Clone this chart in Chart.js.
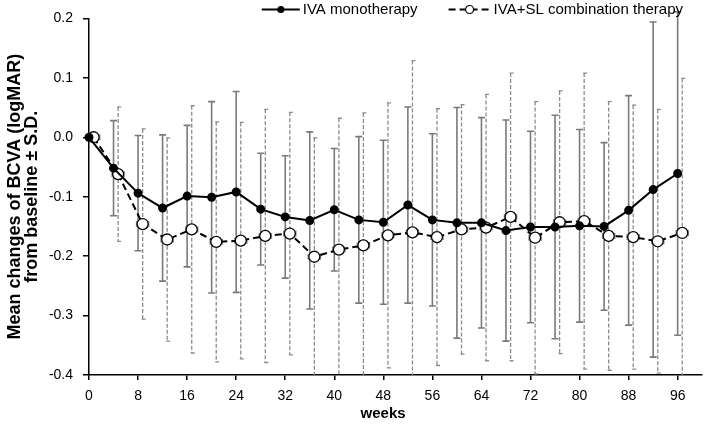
<!DOCTYPE html>
<html>
<head>
<meta charset="utf-8">
<script src="https://cdn.jsdelivr.net/npm/chart.js@4.4.1/dist/chart.umd.min.js"></script>
<style>
  html, body { margin: 0; background: #fff; }
  #wrap { width: 709px; height: 429px; }
</style>
</head>
<body>
<div id="wrap"><canvas id="chart"></canvas></div>
<script>
    // Weeks after baseline
    const weeks = [0, 4, 8, 12, 16, 20, 24, 28, 32, 36, 40, 44, 48, 52, 56, 60, 64, 68, 72, 76, 80, 84, 88, 92, 96];

    // IVA monotherapy: mean change and S.D.
    const monoMean = [0, -0.052, -0.094, -0.119, -0.099, -0.101, -0.092, -0.121, -0.134, -0.140, -0.122, -0.139, -0.143,
      -0.114, -0.139, -0.144, -0.144, -0.157, -0.151, -0.151, -0.149, -0.150, -0.123, -0.088, -0.061];
    const monoSD = [0, 0.080, 0.097, 0.123, 0.119, 0.161, 0.169, 0.094, 0.103, 0.149, 0.103, 0.140, 0.138,
      0.165, 0.145, 0.194, 0.177, 0.186, 0.161, 0.188, 0.162, 0.141, 0.193, 0.282, 0.272];

    // IVA+SL combination therapy: mean change and S.D.
    const comboMean = [0, -0.062, -0.146, -0.172, -0.155, -0.176, -0.174, -0.166, -0.162, -0.201, -0.189, -0.182, -0.165,
      -0.160, -0.168, -0.155, -0.152, -0.134, -0.169, -0.143, -0.141, -0.166, -0.168, -0.175, -0.161];
    const comboSD = [0, 0.113, 0.160, 0.171, 0.208, 0.202, 0.199, 0.213, 0.204, 0.200, 0.221, 0.223, 0.223,
      0.289, 0.216, 0.210, 0.224, 0.242, 0.229, 0.221, 0.249, 0.226, 0.222, 0.222, 0.260];

    const seriesLabels = ['IVA monotherapy', 'IVA+SL combination therapy'];

    // Axis ticks
    const xTicks = [0, 8, 16, 24, 32, 40, 48, 56, 64, 72, 80, 88, 96];
    const yTicks = [-0.4, -0.3, -0.2, -0.1, 0.0, 0.1, 0.2];

    // combination points are drawn slightly to the right so the bars don't overlap
    const comboShift = 0.75;
    const FONT = "'Liberation Sans', Arial, sans-serif";

    // Function to draw the +/- S.D. bars under the lines
    const errorBars = {
      id: 'errorBars',
      beforeDatasetsDraw(chart) {
        const ctx = chart.ctx;
        const yScale = chart.scales.y;
        const xScale = chart.scales.x;
        chart.data.datasets.forEach((ds, i) => {
          const meta = chart.getDatasetMeta(i);
          ctx.save();
          ctx.beginPath();
          ctx.rect(0, 0, chart.width, chart.chartArea.bottom);
          ctx.clip();
          ctx.strokeStyle = ds.errColor;
          ctx.lineWidth = ds.errWidth;
          meta.data.forEach((pt, j) => {
            const mean = ds.data[j].y;
            const sd = ds.sd[j];
            // tiny horizontal whiskers around the open circles
            if (ds.xErr) {
              const xl = xScale.getPixelForValue(ds.data[j].x - ds.xErr);
              const xr = xScale.getPixelForValue(ds.data[j].x + ds.xErr);
              ctx.setLineDash([]);
              ctx.beginPath();
              ctx.moveTo(xl, pt.y); ctx.lineTo(xr, pt.y);
              ctx.moveTo(xl, pt.y - 3); ctx.lineTo(xl, pt.y + 3);
              ctx.moveTo(xr, pt.y - 3); ctx.lineTo(xr, pt.y + 3);
              ctx.stroke();
            }
            if (!sd) return;
            const top = yScale.getPixelForValue(mean + sd);
            const bot = yScale.getPixelForValue(mean - sd);
            ctx.setLineDash(ds.errDash);
            ctx.beginPath();
            ctx.moveTo(pt.x, top); ctx.lineTo(pt.x, bot);
            ctx.stroke();
            ctx.setLineDash([]);
            ctx.beginPath();
            ctx.moveTo(pt.x - ds.capLeft, top); ctx.lineTo(pt.x + ds.capRight, top);
            ctx.moveTo(pt.x - ds.capLeft, bot); ctx.lineTo(pt.x + ds.capRight, bot);
            ctx.stroke();
          });
          ctx.restore();
        });
      }
    };

    // Function to draw the legend in the top right corner
    const topLegend = {
      id: 'topLegend',
      afterDraw(chart) {
        const ctx = chart.ctx;
        ctx.save();
        ctx.font = '15px ' + FONT;
        ctx.textBaseline = 'middle';
        ctx.fillStyle = '#000';
        const cy = 9.5;
        const sample = [38, 42];
        const w0 = ctx.measureText(seriesLabels[0]).width;
        const w1 = ctx.measureText(seriesLabels[1]).width;
        let x1 = chart.width - 26 - w1 - 3 - sample[1];
        let x0 = x1 - 31 - w0 - 3 - sample[0];
        [x0, x1].forEach((x, i) => {
          const ds = chart.data.datasets[i];
          const w = sample[i];
          ctx.strokeStyle = ds.borderColor;
          ctx.lineWidth = ds.borderWidth;
          ctx.setLineDash(ds.borderDash || []);
          ctx.beginPath();
          ctx.moveTo(x, cy); ctx.lineTo(x + w, cy);
          ctx.stroke();
          ctx.setLineDash([]);
          ctx.beginPath();
          ctx.arc(x + w / 2, cy, i === 0 ? 3 : 4, 0, Math.PI * 2);
          ctx.fillStyle = ds.pointBackgroundColor;
          ctx.fill();
          ctx.lineWidth = 1.2;
          ctx.stroke();
          ctx.fillStyle = '#000';
          ctx.fillText(ds.label, x + w + 3, cy);
        });
        ctx.restore();
      }
    };

    const ctx = document.getElementById('chart').getContext('2d');
    const myChart = new Chart(ctx, {
      type: 'line',
      data: {
        datasets: [{
          label: seriesLabels[0],
          data: weeks.map((w, i) => ({ x: w, y: monoMean[i] })),
          sd: monoSD,
          errColor: '#7a7a7a',
          errWidth: 1.6,
          errDash: [],
          capLeft: 3.5,
          capRight: 3.5,
          borderColor: '#000',
          borderWidth: 2,
          pointRadius: 3.5,
          pointBackgroundColor: '#000',
          pointBorderColor: '#000',
          clip: false
        }, {
          label: seriesLabels[1],
          data: weeks.map((w, i) => ({ x: w + comboShift, y: comboMean[i] })),
          sd: comboSD,
          xErr: 1.0,
          errColor: '#8c8c8c',
          errWidth: 1.3,
          errDash: [4, 2],
          capLeft: 1,
          capRight: 3,
          borderColor: '#000',
          borderWidth: 2,
          borderDash: [7, 4],
          pointRadius: 5.5,
          pointBackgroundColor: '#fff',
          pointBorderColor: '#000',
          pointBorderWidth: 1.3,
          clip: false
        }]
      },
      options: {
        responsive: true,
        maintainAspectRatio: false,
        animation: false,
        layout: { padding: { top: 17, right: 2, left: 0, bottom: 0 } },
        plugins: {
          legend: { display: false },
          tooltip: { enabled: false }
        },
        scales: {
          x: {
            type: 'linear',
            min: 0,
            max: 100,
            afterFit: (s) => { s.height = 54; },
            afterBuildTicks: (s) => { s.ticks = xTicks.map(v => ({ value: v })); },
            border: { color: '#000', width: 1.5 },
            grid: { drawOnChartArea: false, color: '#000', tickLength: 5, lineWidth: 1.5 },
            ticks: { color: '#000', padding: 8, font: { family: FONT, size: 14 } },
            title: {
              display: true,
              // trailing spaces nudge the title a little left, as in the original
              text: 'weeks      ',
              color: '#000',
              padding: { bottom: 6 },
              font: { family: FONT, size: 15, weight: 'bold' }
            }
          },
          y: {
            min: -0.4,
            max: 0.2,
            afterFit: (s) => { s.width = 89; },
            afterBuildTicks: (s) => { s.ticks = yTicks.map(v => ({ value: v })); },
            border: { color: '#000', width: 1.5 },
            grid: { drawOnChartArea: false, color: '#000', tickLength: 6, lineWidth: 1.5 },
            ticks: {
              color: '#000',
              padding: 10,
              font: { family: FONT, size: 14 },
              callback: (v) => v.toFixed(1)
            },
            title: {
              display: true,
              text: ['Mean changes of BCVA (logMAR)', 'from baseline \u00b1 S.D.'],
              color: '#000',
              padding: { top: 6 },
              font: { family: FONT, size: 18, weight: 'bold', lineHeight: 0.95 }
            }
          }
        }
      },
      plugins: [errorBars, topLegend]
    });
</script>
</body>
</html>
